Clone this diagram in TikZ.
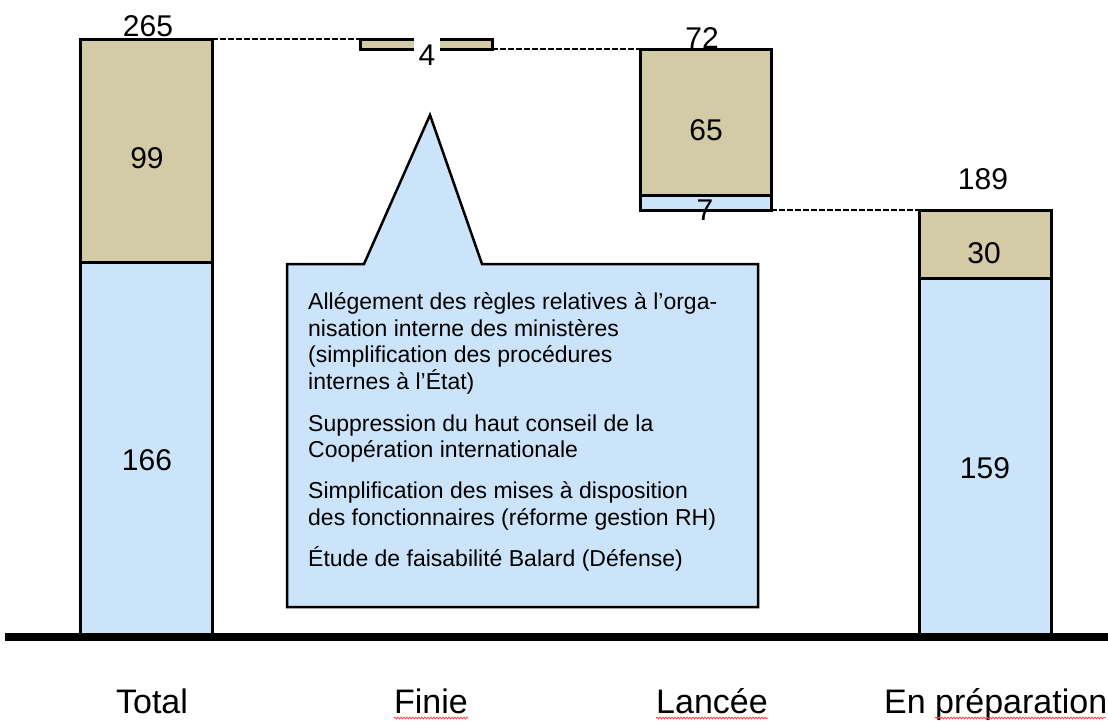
\documentclass[tikz,border=0pt]{standalone}
\usepackage{fontspec}
\setmainfont{Liberation Sans}
\usetikzlibrary{decorations.pathmorphing}
\definecolor{tan}{RGB}{210,203,166}
\definecolor{skyb}{RGB}{204,228,249}
\tikzset{
  seg/.style={draw=black, line width=3pt, inner sep=0pt, outer sep=0pt},
  tanseg/.style={seg, fill=tan},
  blueseg/.style={seg, fill=skyb},
  num/.style={font=\fontsize{30}{36}\selectfont, inner sep=0pt},
  cat/.style={font=\fontsize{34}{40}\selectfont, inner sep=0pt, anchor=base},
  link/.style={draw=black, line width=2pt, dash pattern=on 6pt off 2pt},
  spell/.style={draw=red!75, line width=0.8pt, decorate, decoration={snake, segment length=3pt, amplitude=0.9pt}},
  callout/.style={draw=black, line width=2.5pt, fill=skyb, line join=miter}
}
\begin{document}
\begin{tikzpicture}[x=1pt, y=-1pt]
\useasboundingbox (0,0) rectangle (1108,720);
% bars
\node[tanseg, minimum width=132pt, minimum height=223pt] (totT) at (146,150.5) {};
\node[blueseg, minimum width=132pt, minimum height=372pt] (totB) at (146,448) {};
\node[tanseg, minimum width=132pt, minimum height=10pt] (fin) at (426,44) {};
\node[tanseg, minimum width=131pt, minimum height=146pt] (lanT) at (705.5,122) {};
\node[blueseg, minimum width=131pt, minimum height=15pt] (lanB) at (705.5,202.5) {};
\node[tanseg, minimum width=132pt, minimum height=68pt] (preT) at (985,244) {};
\node[blueseg, minimum width=132pt, minimum height=356pt] (preB) at (985,456) {};
% dashed connectors
\draw[link] (totT.north east) -- (fin.north west);
\draw[link] (fin.south east) -- (lanT.north west);
\draw[link] (lanB.south east) -- (preT.north west);
% numbers
\node[num] (n265) at (148,26) {265};
\node[num] (n99) at (147,158) {99};
\node[num] (n166) at (147,460) {166};
\node[num, fill=white, minimum width=26pt, minimum height=36pt] (n4) at (427,55) {4};
\node[num] (n72) at (702,38) {72};
\node[num] (n65) at (706,130) {65};
\node[num] (n7) at (705,210) {7};
\node[num] (n189) at (983,179) {189};
\node[num] (n30) at (984,253) {30};
\node[num] (n159) at (985,468) {159};
% callout
\draw[callout] (287,264) -- (364,264) -- (430,115) -- (482,264) -- (758,264)
  -- (758,607) -- (287,607) -- cycle;
\node[anchor=base west, inner sep=0pt, align=left,
  font=\fontsize{23}{26.7}\selectfont] (note) at (308,566)
  {Allégement des règles relatives à l’orga-\\
   nisation interne des ministères\\
   (simplification des procédures\\
   internes à l’État)\\[15pt]
   Suppression du haut conseil de la\\
   Coopération internationale\\[14pt]
   Simplification des mises à disposition\\
   des fonctionnaires (réforme gestion RH)\\[14pt]
   Étude de faisabilité Balard (Défense)};
% baseline
\coordinate (axL) at (5,637);
\coordinate (axR) at (1108,637);
\draw[line width=8pt] (axL) -- (axR);
% categories
\node[cat] (cTot) at (152,713) {Total};
\node[cat] (cFin) at (431,713) {Finie};
\node[cat] (cLan) at (712,713) {Lancée};
\node[cat, anchor=base west] (cPre) at (884,713) {En préparation};
% spellcheck underlines
\draw[spell] (cFin.base west) ++(0,5) coordinate (s1) -- (s1 -| cFin.base east);
\draw[spell] (cLan.base west) ++(0,5) coordinate (s2) -- (s2 -| cLan.base east);
\draw[spell] (935,718) -- (1106,718);
\end{tikzpicture}
\end{document}
